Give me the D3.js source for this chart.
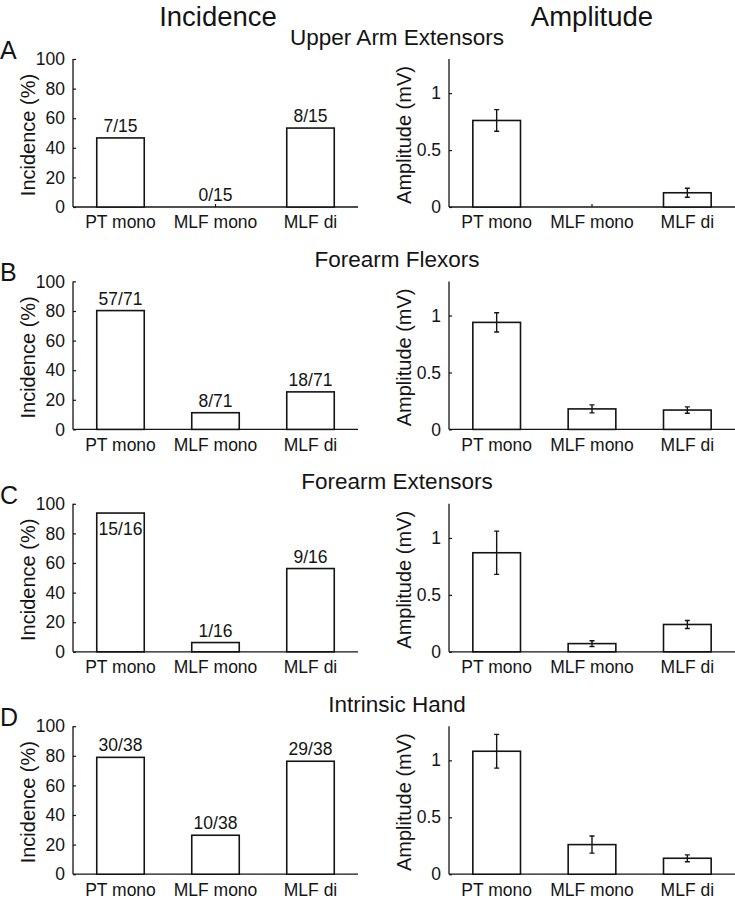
<!DOCTYPE html>
<html>
<head>
<meta charset="utf-8">
<script src="https://cdn.jsdelivr.net/npm/d3@7"></script>
<style>
  html, body { margin: 0; padding: 0; background: #fff; }
  svg { display: block; font-family: "Liberation Sans", Arial, Helvetica, sans-serif; }
</style>
</head>
<body>
<svg id="chart" width="735" height="899"></svg>
<script>
// ---------- data ----------
const categories = ["PT mono", "MLF mono", "MLF di"];
const panelLetters = ["A", "B", "C", "D"];
const muscles = ["Upper Arm Extensors", "Forearm Flexors", "Forearm Extensors", "Intrinsic Hand"];
const columnTitles = ["Incidence", "Amplitude"];

// incidence: responding / total
const hitsA = [7, 0, 8],   totalA = 15;
const hitsB = [57, 8, 18], totalB = 71;
const hitsC = [15, 1, 9],  totalC = 16;
const hitsD = [30, 10, 29], totalD = 38;
const hits = [hitsA, hitsB, hitsC, hitsD];
const totals = [totalA, totalB, totalC, totalD];

// amplitude mean (mV) and error (SEM)
const ampA = [0.76, 0, 0.125],  errA = [0.095, 0, 0.04];
const ampB = [0.94, 0.18, 0.17], errB = [0.085, 0.035, 0.028];
const ampC = [0.87, 0.072, 0.24], errC = [0.19, 0.025, 0.035];
const ampD = [1.08, 0.26, 0.14], errD = [0.148, 0.075, 0.03];
const amps = [ampA, ampB, ampC, ampD];
const errs = [errA, errB, errC, errD];

const incTicks = [0, 20, 40, 60, 80, 100];
const ampTicks = [0, 0.5, 1];
const ampTickLabels = ["0", "0.5", "1"];

// ---------- layout ----------
const svg = d3.select("#chart");
const ink = "#141414";
const rowStep = 222.4;
const top0 = 59, plotH = 148;
const leftX = [73, 358], rightX = [449, 735];

svg.append("text").attr("x", 218).attr("y", 16).attr("text-anchor", "middle")
  .attr("dominant-baseline", "central").attr("font-size", 27.5).attr("fill", ink).text(columnTitles[0]);
svg.append("text").attr("x", 592).attr("y", 16).attr("text-anchor", "middle")
  .attr("dominant-baseline", "central").attr("font-size", 27.5).attr("fill", ink).text(columnTitles[1]);

function drawPanel(g, xr, yDomain, ticks, tickLabels, values, errors, labels, yLabel, T) {
  const B = T + plotH;
  const x = d3.scaleBand().domain(categories).range(xr).paddingInner(0.5).paddingOuter(0.25);
  const y = d3.scaleLinear().domain(yDomain).range([B, T]);

  // y axis
  const yAxis = d3.axisLeft(y).tickValues(ticks).tickSize(-3).tickPadding(8)
    .tickFormat((d, i) => tickLabels[i]);
  const ya = g.append("g").attr("transform", `translate(${xr[0]},0)`).call(yAxis);
  ya.select(".domain").attr("d", `M0,${T}V${B}`).attr("stroke", ink).attr("stroke-width", 1.3);
  ya.selectAll(".tick line").attr("stroke", ink).attr("stroke-width", 1.2);
  ya.selectAll(".tick text").attr("font-size", 17.5).attr("fill", ink)
    .attr("font-family", "Liberation Sans, Arial, sans-serif");

  // x axis
  const xAxis = d3.axisBottom(x).tickSize(-3).tickPadding(9);
  const xa = g.append("g").attr("transform", `translate(0,${B})`).call(xAxis);
  xa.select(".domain").attr("d", `M${xr[0]},0H${xr[1]}`).attr("stroke", ink).attr("stroke-width", 1.3);
  xa.selectAll(".tick line").attr("stroke", ink).attr("stroke-width", 1.2);
  xa.selectAll(".tick text").attr("font-size", 17.5).attr("fill", ink)
    .attr("font-family", "Liberation Sans, Arial, sans-serif");

  // bars
  g.selectAll("rect.bar").data(values.map((v, i) => ({v, c: categories[i]})).filter(d => d.v > 0))
    .enter().append("rect").attr("class", "bar")
    .attr("x", d => x(d.c)).attr("width", x.bandwidth())
    .attr("y", d => y(d.v)).attr("height", d => B - y(d.v))
    .attr("fill", "#fff").attr("stroke", ink).attr("stroke-width", 1.6);

  // error bars
  if (errors) {
    errors.forEach((e, i) => {
      if (e <= 0) return;
      const cx = x(categories[i]) + x.bandwidth() / 2;
      const y1 = y(values[i] + e), y2 = y(values[i] - e);
      g.append("path")
        .attr("d", `M${cx},${y1}V${y2}M${cx - 2.5},${y1}H${cx + 2.5}M${cx - 2.5},${y2}H${cx + 2.5}`)
        .attr("stroke", ink).attr("stroke-width", 1.4).attr("fill", "none");
    });
  }

  // count labels
  if (labels) {
    labels.forEach((lab, i) => {
      const cx = x(categories[i]) + x.bandwidth() / 2;
      const v = values[i];
      const inside = v > 90;
      g.append("text").attr("x", cx)
        .attr("y", inside ? y(v) + 22 : y(v) - 6)
        .attr("text-anchor", "middle").attr("font-size", 17.5).attr("fill", ink).text(lab);
    });
  }

  // y label
  const cy = (T + B) / 2 + 2;
  g.append("text").attr("transform", `translate(${xr[0] - 45},${cy}) rotate(-90)`)
    .attr("text-anchor", "middle").attr("dominant-baseline", "central")
    .attr("font-size", 20).attr("fill", ink).text(yLabel);
}

for (let r = 0; r < 4; r++) {
  const T = top0 + r * rowStep;
  const g = svg.append("g");
  // panel letter
  g.append("text").attr("x", 0).attr("y", T - 9).attr("dominant-baseline", "central")
    .attr("font-size", 25).attr("fill", ink).text(panelLetters[r]);
  // row title
  g.append("text").attr("x", 397).attr("y", T - 22).attr("text-anchor", "middle")
    .attr("dominant-baseline", "central").attr("font-size", 22.5).attr("fill", ink).text(muscles[r]);

  const inc = hits[r].map(h => h / totals[r] * 100);
  const labs = hits[r].map(h => `${h}/${totals[r]}`);
  drawPanel(g.append("g"), leftX, [0, 100], incTicks, incTicks.map(String), inc, null, labs, "Incidence (%)", T);
  drawPanel(g.append("g"), rightX, [0, 1.3], ampTicks, ampTickLabels, amps[r], errs[r], null, "Amplitude (mV)", T);
}
</script>
</body>
</html>
